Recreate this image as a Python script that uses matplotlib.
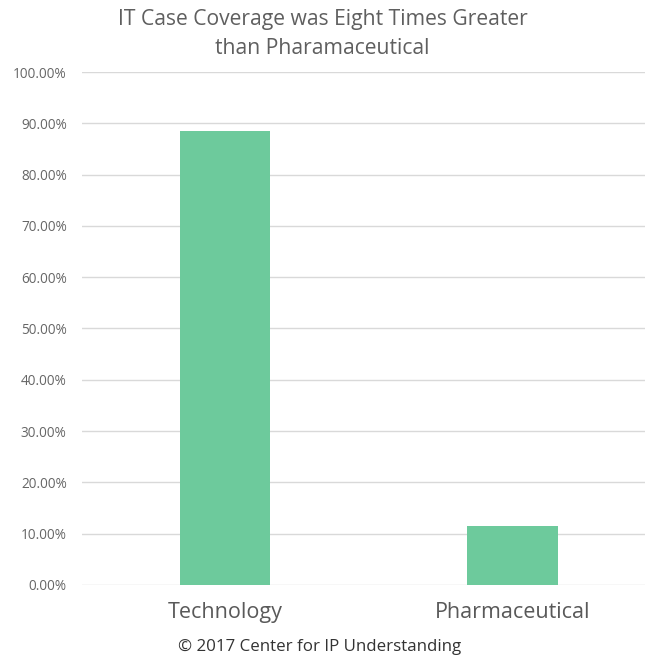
import matplotlib.pyplot as plt
from matplotlib.ticker import FuncFormatter

# Share of case coverage by industry
categories = ['Technology', 'Pharmaceutical']
coverage = [88.6, 11.4]
yticks = [0, 10, 20, 30, 40, 50, 60, 70, 80, 90, 100]

plt.rcParams['font.family'] = ['Open Sans', 'DejaVu Sans']

fig = plt.figure(figsize=(6.45, 6.55), dpi=100)
ax = fig.add_axes([0.127, 0.107, 0.89, 0.783])

ax.bar(range(len(categories)), coverage, width=0.314, color='#6dca9c', zorder=2)

ax.set_xlim(-0.5, 1.5)
ax.set_ylim(0, 100)
ax.set_yticks(yticks)
ax.yaxis.set_major_formatter(FuncFormatter(lambda v, _: f'{v:.2f}%'))
ax.set_xticks(range(len(categories)))
ax.set_xticklabels(categories, fontsize=15.5, color='#595959')
ax.tick_params(axis='y', labelsize=9.8, labelcolor='#666666', length=0, pad=11)
ax.tick_params(axis='x', length=0, pad=12)

ax.grid(axis='y', color='#d9d9d9', linewidth=1, zorder=0)
for s in ax.spines.values():
    s.set_visible(False)

fig.text(0.5, 0.987, 'IT Case Coverage was Eight Times Greater\nthan Pharamaceutical',
         ha='center', va='top', fontsize=15.2, color='#5f5f5f', linespacing=1.55)
fig.text(0.495, 0.012, '\u00a9 2017 Center for IP Understanding',
         ha='center', va='center', fontsize=12.2, color='#333333')

fig.savefig('out.png', dpi=100)
